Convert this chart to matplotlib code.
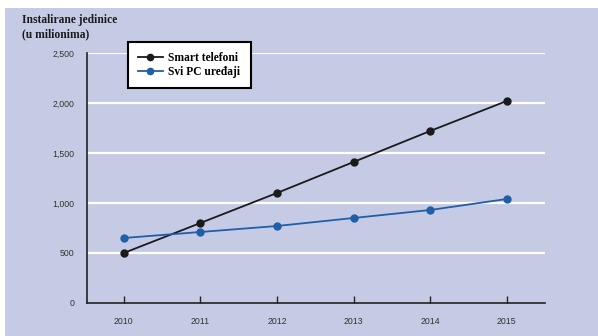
import matplotlib
matplotlib.use("Agg")
import matplotlib.pyplot as plt
from matplotlib.patches import Rectangle

years = [2010, 2011, 2012, 2013, 2014, 2015]
smart_phones = [500, 800, 1100, 1410, 1720, 2020]
all_pcs = [650, 710, 770, 850, 930, 1040]
yticks = [0, 500, 1000, 1500, 2000, 2500]
ytick_labels = ["0", "500", "1,000", "1,500", "2,000", "2,500"]

W, H = 598, 336
fig = plt.figure(figsize=(W / 100, H / 100), dpi=100)
bg = "#c5cbe5"
fig.patch.set_facecolor(bg)
# white strips at the top and left edges
fig.add_artist(Rectangle((0, (H - 8) / H), 1, 8 / H, transform=fig.transFigure,
                         facecolor="white", edgecolor="none", zorder=10))
fig.add_artist(Rectangle((0, 0), 5 / W, 1, transform=fig.transFigure,
                         facecolor="white", edgecolor="none", zorder=10))

ax = fig.add_axes([87 / W, (H - 303) / H, (545 - 87) / W, (303 - 53) / H])
ax.set_facecolor(bg)
ax.set_xlim(2009.52, 2015.5)
ax.set_ylim(0, 2500)
for y in yticks[1:]:
    ax.axhline(y, color="white", lw=1.6, zorder=1)

ax.plot(years, smart_phones, color="#1a1a1a", lw=1.3, marker="o", ms=5,
        label="Smart telefoni", zorder=3)
ax.plot(years, all_pcs, color="#1f5fa8", lw=1.3, marker="o", ms=5,
        label="Svi PC uređaji", zorder=3)

for s in ["top", "right"]:
    ax.spines[s].set_visible(False)
ax.spines["left"].set_color("#222222")
ax.spines["bottom"].set_color("#222222")
ax.spines["left"].set_linewidth(1.2)
ax.spines["bottom"].set_linewidth(1.2)

ax.set_xticks(years)
ax.set_xticklabels([str(y) for y in years], fontsize=6.3, family="Liberation Sans", color="#333333")
ax.set_yticks(yticks)
ax.set_yticklabels(ytick_labels, fontsize=6.3, family="Liberation Sans", color="#333333")
ax.tick_params(axis="x", direction="in", length=5, width=1, color="#222222", pad=10)
ax.tick_params(axis="y", length=0, pad=9)

fig.text(22 / W, 1 - 27 / H, "Instalirane jedinice\n(u milionima)", fontsize=8.3,
         fontweight="bold", family="Liberation Serif", va="center", ha="left",
         linespacing=1.2, color="#1a1a1a")

leg = ax.legend(loc="upper left", bbox_to_anchor=((128 - 87) / (545 - 87), 1 + (53 - 42) / 250),
                prop={"family": "Liberation Serif", "weight": "bold", "size": 8.3},
                frameon=True, fancybox=False, edgecolor="black", facecolor="white",
                framealpha=1, handlelength=2.1, handletextpad=0.5, borderpad=0.9,
                labelspacing=0.15, borderaxespad=0, markerscale=0.9)
leg.get_frame().set_linewidth(1.5)
leg.set_zorder(5)

fig.savefig("out.png", dpi=100, facecolor=fig.get_facecolor())
